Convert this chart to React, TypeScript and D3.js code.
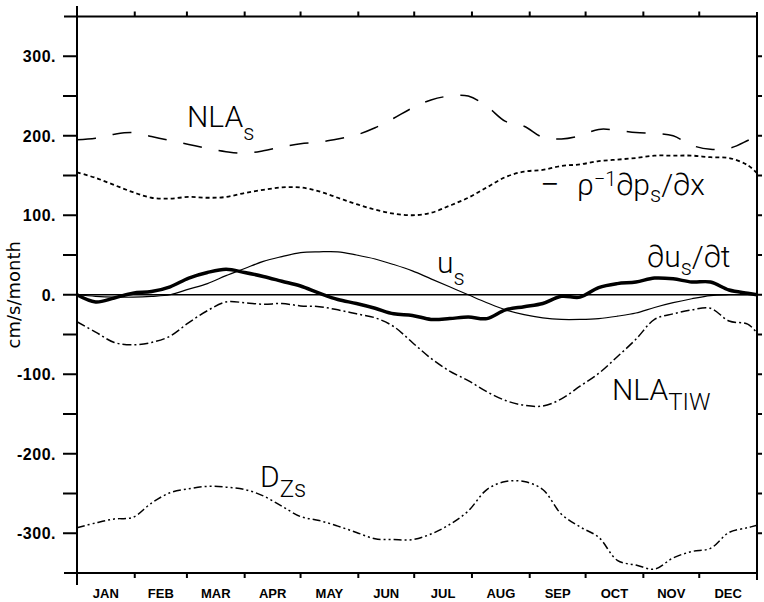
import React from 'react';
import * as d3 from 'd3';

// sample days (day of year) shared by every curve
const days = [0, 10, 20, 30, 40, 50, 60, 70, 80, 90, 100, 110, 120, 130, 140, 150, 160, 170, 180,
  190, 200, 210, 220, 230, 240, 250, 260, 270, 280, 290, 300, 310, 320, 330, 340, 350, 360, 365];

const nlaS = [195, 197, 202, 204, 199, 194, 189, 184, 180, 178, 181, 186, 190, 192, 196, 201, 210, 222, 235,
  245, 250, 250, 237, 218, 212, 198, 196, 200, 208, 207, 204, 203, 200, 188, 183, 184, 194, 200];
const pressGrad = [154, 147, 138, 129, 122, 121, 123, 122, 123, 128, 132, 135, 135, 130, 122, 114, 107, 102, 100,
  103, 112, 122, 135, 148, 155, 157, 162, 164, 168, 170, 172, 175, 175, 175, 173, 172, 163, 153];
const uS = [0, -2, -3, -3, -2, 0, 7, 14, 24, 33, 42, 48, 53, 54, 54, 50, 45, 38, 30,
  20, 10, 0, -10, -19, -25, -29, -31, -31, -30, -27, -23, -16, -10, -5, -1, 0, 0, 0];
const duDt = [0, -9, -4, 2, 4, 10, 21, 28, 32, 28, 23, 17, 11, 2, -6, -11, -17, -24, -26,
  -31, -30, -28, -30, -19, -15, -11, -2, -3, 9, 14, 16, 21, 20, 16, 16, 6, 2, 0];
const nlaTiw = [-34, -47, -60, -63, -60, -52, -35, -20, -9, -10, -12, -11, -14, -15, -19, -24, -29, -40, -60,
  -80, -96, -108, -122, -133, -139, -140, -131, -115, -99, -78, -56, -31, -24, -19, -17, -33, -37, -48];
const dZs = [-293, -287, -282, -280, -262, -249, -244, -241, -242, -245, -253, -266, -279, -284, -291, -299, -307, -308, -308,
  -301, -289, -272, -245, -235, -235, -245, -276, -292, -305, -334, -340, -345, -331, -323, -319, -299, -293, -290];

const monthNames = ['JAN', 'FEB', 'MAR', 'APR', 'MAY', 'JUN', 'JUL', 'AUG', 'SEP', 'OCT', 'NOV', 'DEC'];
const monthStarts = [0, 31, 59, 90, 120, 151, 181, 212, 243, 273, 304, 334, 365];
const yLabelTicks = [-300, -200, -100, 0, 100, 200, 300];
const yMinorTicks = d3.range(-300, 301, 50);

const W = 764;
const H = 602;
const TICK_FONT = '"Liberation Sans", Arial, sans-serif';
const NOTE_FONT = 'Roboto, "DejaVu Sans", sans-serif';

const App = () => {
  const x = d3.scaleLinear().domain([0, 365]).range([77, 757]);
  const y = d3.scaleLinear().domain([-350, 350]).range([573, 16.5]);
  const [x0, x1] = x.range();
  const [yb, yt] = y.range();

  const line = (vals: number[]) =>
    d3.line<number>()
      .x((_, i) => x(days[i]))
      .y(d => y(d))
      .curve(d3.curveCatmullRom.alpha(0.5))(vals) || '';

  const series = [
    { vals: nlaS, dash: '19 17', w: 1.5 },
    { vals: pressGrad, dash: '4 3', w: 1.8 },
    { vals: uS, dash: null, w: 1.2 },
    { vals: duDt, dash: null, w: 3.5 },
    { vals: nlaTiw, dash: '9 3 2 3', w: 1.5 },
    { vals: dZs, dash: '8 3 2 3 2 3', w: 1.5 },
  ];

  const note = { fontFamily: NOTE_FONT, fontWeight: 300, fill: '#000' } as const;

  return (
    <svg width={W} height={H} style={{ position: 'absolute', left: 0, top: 0, background: '#fff' }}>
      <rect width={W} height={H} fill="#fff" />

      {/* zero line */}
      <line x1={x0} x2={x1} y1={y(0)} y2={y(0)} stroke="#000" strokeWidth={1.5} />

      {series.map((s, i) => (
        <path key={i} d={line(s.vals)} fill="none" stroke="#000" strokeWidth={s.w}
          strokeDasharray={s.dash || undefined} strokeLinejoin="round" />
      ))}

      {/* frame */}
      <g stroke="#000" strokeWidth={2}>
        <line x1={x0} x2={x0} y1={6} y2={585} />
        <line x1={x1} x2={x1} y1={12} y2={580} />
        <line x1={64} x2={x1 + 1} y1={yt} y2={yt} />
        <line x1={64} x2={x1 + 1} y1={yb} y2={yb} />
        {yMinorTicks.map(t => (
          <g key={t}>
            <line x1={63} x2={x0} y1={y(t)} y2={y(t)} />
            <line x1={x1} x2={x1 + 5} y1={y(t)} y2={y(t)} />
          </g>
        ))}
        {monthStarts.slice(1, -1).map(d => (
          <g key={d}>
            <line x1={x(d)} x2={x(d)} y1={yb} y2={yb + 5} />
            <line x1={x(d)} x2={x(d)} y1={yt} y2={yt - 5} />
          </g>
        ))}
      </g>

      {/* tick labels */}
      <g fontFamily={TICK_FONT} fontWeight="bold" fill="#000">
        {yLabelTicks.map(t => (
          <text key={t} x={56} y={y(t)} dy="0.36em" fontSize={16} letterSpacing={0.5}
            textAnchor="end">{`${t}.`}</text>
        ))}
        {monthNames.map((m, i) => (
          <text key={m} x={(x(monthStarts[i]) + x(monthStarts[i + 1])) / 2} y={598} fontSize={13}
            textAnchor="middle">{m}</text>
        ))}
      </g>

      <text transform={`translate(20,${y(0)}) rotate(-90)`} textAnchor="middle"
        fontFamily='"DejaVu Sans", sans-serif' fontSize={18} fill="#000">cm/s/month</text>

      {/* curve labels */}
      <text x={187} y={127} fontSize={30} {...note}>
        NLA<tspan fontSize={22} dy={13}>s</tspan>
      </text>
      <text x={540} y={195} fontSize={30} {...note}>
        <tspan fontSize={34} dy={1}>−</tspan>
        <tspan x={577} dy={-1}>ρ</tspan>
        <tspan fontSize={20} dy={-9}>−1</tspan>
        <tspan dy={9}>∂p</tspan>
        <tspan fontSize={22} dy={7}>s</tspan>
        <tspan dy={-7}>/∂x</tspan>
      </text>
      <text x={437} y={273} fontSize={30} {...note}>
        u<tspan fontSize={22} dy={12}>s</tspan>
      </text>
      <text x={647} y={267} fontSize={30} {...note}>
        ∂u<tspan fontSize={22} dy={8}>s</tspan><tspan dy={-8}>/∂t</tspan>
      </text>
      <text x={612} y={400} fontSize={30} {...note}>
        NLA<tspan fontSize={24} dy={10}>TIW</tspan>
      </text>
      <text x={260} y={487} fontSize={30} {...note}>
        D<tspan fontSize={24} dy={10}>Zs</tspan>
      </text>
    </svg>
  );
};

export default App;
